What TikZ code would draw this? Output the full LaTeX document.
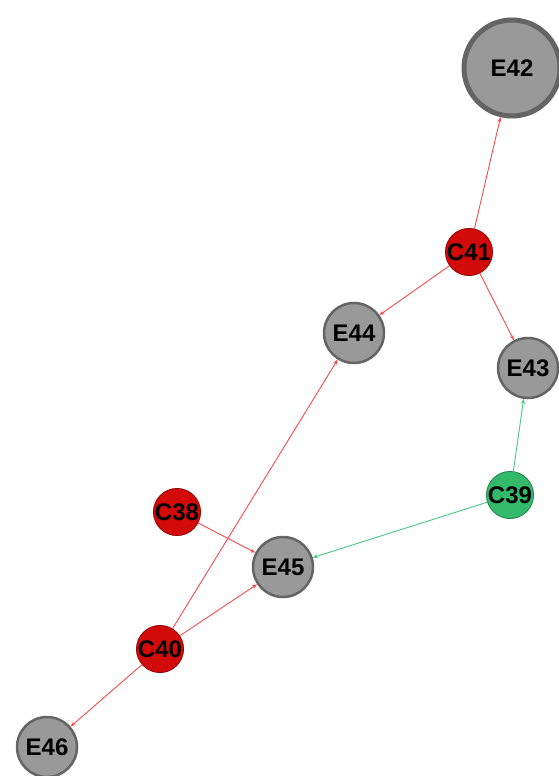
\documentclass[tikz,border=0pt]{standalone}
\usepackage{fontspec}
\setmainfont{Liberation Sans}
\usetikzlibrary{arrows.meta}

\definecolor{egray}{RGB}{153,153,153}
\definecolor{eborder}{RGB}{100,100,100}
\definecolor{cred}{RGB}{210,10,10}
\definecolor{cgreen}{RGB}{50,185,105}
\definecolor{lred}{RGB}{245,75,75}
\definecolor{lgreen}{RGB}{70,200,130}

\begin{document}
\begin{tikzpicture}[x=1pt,y=-1pt,
  ent/.style={circle,fill=egray,draw=eborder,line width=2.5pt,minimum size=60pt,inner sep=0pt,
    font=\fontsize{24}{24}\selectfont\bfseries},
  bigent/.style={ent,minimum size=96pt,line width=5pt},
  causer/.style={circle,fill=cred,draw=cred!70!black,line width=0.8pt,minimum size=34pt,inner sep=0pt,
    font=\fontsize{24}{24}\selectfont\bfseries},
  causeg/.style={causer,fill=cgreen,draw=cgreen!70!black},
  redarr/.style={draw=lred,line width=0.9pt,-{Stealth[length=5pt,width=4pt]}},
  greenarr/.style={draw=lgreen,line width=0.9pt,-{Stealth[length=5pt,width=4pt]}}]
  \useasboundingbox (0,0) rectangle (558,776);
  % entities
  \node[bigent] (E42) at (512,68) {E42};
  \node[ent] (E44) at (354,333) {E44};
  \node[ent] (E43) at (528,368) {E43};
  \node[ent] (E45) at (283,567) {E45};
  \node[ent] (E46) at (47,747) {E46};
  % causes
  \node[causer] (C41) at (469,252) {C41};
  \node[causeg] (C39) at (510,495) {C39};
  \node[causer] (C38) at (177,512) {C38};
  \node[causer] (C40) at (160,649) {C40};
  % links
  \draw[redarr] (C41) -- (E42);
  \draw[redarr] (C41) -- (E44);
  \draw[redarr] (C41) -- (E43);
  \draw[greenarr] (C39) -- (E43);
  \draw[greenarr] (C39) -- (E45);
  \draw[redarr] (C38) -- (E45);
  \draw[redarr] (C40) -- (E45);
  \draw[redarr] (C40) -- (E44);
  \draw[redarr] (C40) -- (E46);
\end{tikzpicture}
\end{document}
